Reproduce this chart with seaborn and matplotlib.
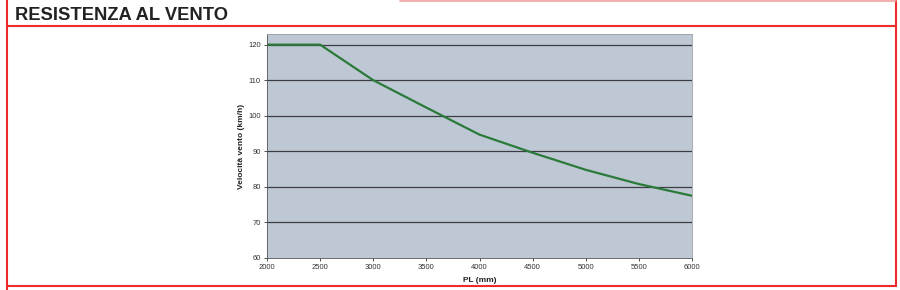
import matplotlib
matplotlib.use("Agg")
import matplotlib.pyplot as plt
import seaborn as sns
import pandas as pd
from matplotlib.lines import Line2D

pl_mm = [2000, 2500, 3000, 3500, 4000, 4500, 5000, 5500, 6000]
velocita = [120, 120, 110, 102.3, 94.7, 89.6, 84.8, 80.8, 77.5]
x_ticks = [2000, 2500, 3000, 3500, 4000, 4500, 5000, 5500, 6000]
y_ticks = [60, 70, 80, 90, 100, 110, 120]

df = pd.DataFrame({"PL (mm)": pl_mm, "Velocità vento (km/h)": velocita})

sns.set_theme(style="white", rc={"axes.facecolor": "#bec8d4"})
plt.rcParams['font.family'] = ['Liberation Sans', 'DejaVu Sans']

fig = plt.figure(figsize=(9, 2.9), dpi=100)
ax = fig.add_axes([267/900, 32/290, 425/900, 224/290])

sns.lineplot(data=df, x="PL (mm)", y="Velocità vento (km/h)", ax=ax,
             color="#2a7a3a", linewidth=1.6)

ax.set_xlim(2000, 6000)
ax.set_ylim(60, 123)
ax.set_xticks(x_ticks)
ax.set_yticks(y_ticks)
ax.tick_params(axis="both", labelsize=5.5, colors="#333333", length=2.5,
               width=0.6, pad=2, direction="out", bottom=True, left=True)
for y in y_ticks[1:]:
    ax.axhline(y, color="#3c3c44", linewidth=0.9, zorder=1)
for s in ax.spines.values():
    s.set_color("#9aa0a8")
    s.set_linewidth(0.6)
ax.spines["bottom"].set_color("#555555")
ax.spines["left"].set_color("#555555")
ax.set_xlabel("PL (mm)", fontsize=6, fontweight="bold", color="#222222", labelpad=4)
ax.set_ylabel("Velocità vento (km/h)", fontsize=6, fontweight="bold", color="#222222", labelpad=2)

# page frame
red = "#ee2a2a"
fig.add_artist(Line2D([7/900, 7/900], [0, 1], transform=fig.transFigure, color=red, lw=1.5))
fig.add_artist(Line2D([896/900, 896/900], [4/290, 1], transform=fig.transFigure, color=red, lw=1.5))
fig.add_artist(Line2D([7/900, 896/900], [1-26/290, 1-26/290], transform=fig.transFigure, color=red, lw=1.5))
fig.add_artist(Line2D([7/900, 896/900], [1-286/290, 1-286/290], transform=fig.transFigure, color=red, lw=1.5))
fig.add_artist(Line2D([400/900, 896/900], [1-0.8/290, 1-0.8/290], transform=fig.transFigure, color="#f3a0a0", lw=1.2))

fig.text(15/900, 1-19.5/290, "RESISTENZA AL VENTO", fontsize=13.2, fontweight="bold",
         color="#222222", ha="left", va="baseline")

fig.savefig("out.png", dpi=100)
